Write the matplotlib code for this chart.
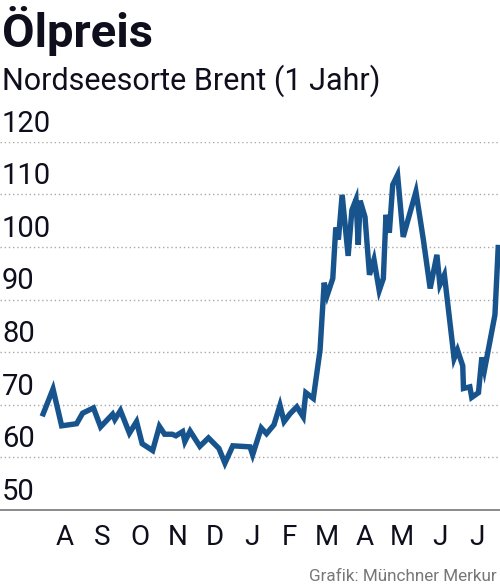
import numpy as np
import matplotlib
matplotlib.use("Agg")
import matplotlib.pyplot as plt

plt.rcParams['font.family'] = ['Roboto', 'DejaVu Sans']

# time in months (0 = start of August), Brent price
months = [-0.11, 0.18, 0.41, 0.81, 0.97, 1.26, 1.45, 1.61, 1.77, 1.83,
          1.98, 2.22, 2.41, 2.56, 2.84, 3.02, 3.16, 3.36, 3.46, 3.64,
          3.70, 3.84, 4.10, 4.33, 4.61, 4.77, 4.98, 5.44, 5.51, 5.74,
          5.88, 6.08, 6.24, 6.35, 6.51, 6.69, 6.86, 6.93, 7.13, 7.31,
          7.42, 7.50, 7.65, 7.73, 7.80, 7.90, 8.06, 8.16, 8.27, 8.33,
          8.38, 8.51, 8.63, 8.75, 8.89, 9.00, 9.07, 9.16, 9.25, 9.38,
          9.53, 9.87, 10.07, 10.25, 10.43, 10.51, 10.63, 10.89, 10.98, 11.12,
          11.14, 11.31, 11.36, 11.54, 11.63, 11.70, 11.98, 12.07]
price = [67.8, 73.0, 66.0, 66.4, 68.4, 69.4, 65.8, 67.0, 68.2, 67.2,
         68.9, 64.6, 66.8, 62.6, 61.3, 65.9, 64.4, 64.4, 64.1, 64.9,
         63.0, 65.0, 62.1, 63.7, 61.7, 58.9, 62.2, 62.0, 60.5, 65.6,
         64.5, 66.2, 69.9, 66.8, 68.3, 69.6, 67.7, 72.3, 71.2, 80.4,
         93.2, 90.8, 94.0, 103.7, 101.4, 109.9, 98.3, 107.0, 109.0, 100.4,
         108.8, 105.7, 94.7, 97.6, 91.7, 94.0, 106.1, 102.7, 111.8, 113.7,
         101.9, 110.5, 101.3, 92.1, 98.5, 92.8, 94.7, 78.8, 80.4, 77.4,
         73.1, 73.4, 71.4, 72.3, 79.0, 76.6, 87.1, 100.4]

month_labels = ['A', 'S', 'O', 'N', 'D', 'J', 'F', 'M', 'A', 'M', 'J', 'J']
yticks = [50, 60, 70, 80, 90, 100, 110, 120]

txt = '#0e0e1c'

fig = plt.figure(figsize=(5, 5.86), dpi=100)
ax = fig.add_axes([0, 0.1297, 1, 0.6285])
ax.plot(months, price, color='#17548e', lw=3.9, solid_joinstyle='miter',
        solid_capstyle='butt', zorder=3)
ax.set_xlim(-1.236, 12.115)
ax.set_ylim(50, 120)

for s in ['left', 'right', 'top']:
    ax.spines[s].set_visible(False)
ax.spines['bottom'].set_color('#8a8a8a')
ax.spines['bottom'].set_linewidth(1.4)

ax.set_yticks(yticks[1:])
ax.set_yticklabels([])
ax.tick_params(axis='y', length=0)
ax.grid(axis='y', color='#a8a8a8', linestyle=(0, (1, 2)), lw=1)

ax.set_xticks(np.arange(12) + 0.5)
ax.set_xticklabels(month_labels, fontsize=20, color=txt)
ax.tick_params(axis='x', length=0, pad=10)

for v in yticks:
    ax.annotate(str(v), xy=(0.004, v), xycoords=('axes fraction', 'data'),
                xytext=(0, 3), textcoords='offset points',
                fontsize=21, color=txt, ha='left', va='bottom')

fig.text(0.004, 1 - 47 / 586, 'Ölpreis', fontsize=34, fontweight='bold',
         color=txt, va='baseline')
fig.text(0.004, 1 - 90 / 586, 'Nordseesorte Brent (1 Jahr)', fontsize=22,
         color=txt, va='baseline')
fig.text(0.994, 1 - 581 / 586, 'Grafik: Münchner Merkur', fontsize=12.3,
         color='#777777', ha='right', va='baseline')

fig.savefig('out.png', dpi=100)
